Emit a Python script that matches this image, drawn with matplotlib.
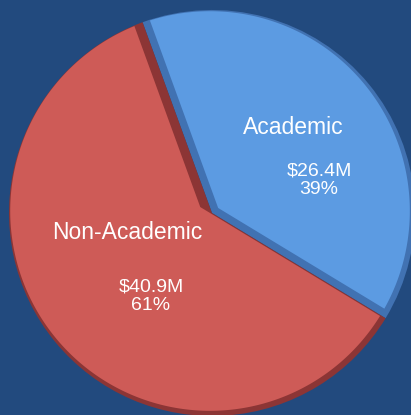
import numpy as np
import matplotlib
matplotlib.use("Agg")
import matplotlib.pyplot as plt
from matplotlib.patches import Polygon

# ---- data ----
categories = ["Academic", "Non-Academic"]
amounts = [26.4, 40.9]            # $M
amount_labels = ["$26.4M", "$40.9M"]
pct_labels = ["39%", "61%"]

# ---- style ----
BG = "#224A7E"
face_colors = ["#5C9BE2", "#CE5B57"]
bevel_colors = ["#4172B2", "#8C3535"]
FONT = ["Liberation Sans", "DejaVu Sans"]

W, H = 411, 415
PX = 203.0          # pixels per data unit (pie radius = 1)
CX, CY = 212, 213   # pie centre in pixels

fig = plt.figure(figsize=(W / 100, H / 100), dpi=100, facecolor=BG)
ax = fig.add_axes([0, 0, 1, 1])
ax.set_facecolor(BG)

wedges, _ = ax.pie(amounts, colors=bevel_colors, startangle=110,
                   counterclock=False, radius=1,
                   center=(0, 0), wedgeprops=dict(linewidth=0))
ax.set_xlim(-CX / PX, (W - CX) / PX)
ax.set_ylim(-(H - CY) / PX, CY / PX)
ax.set_aspect("auto")
ax.axis("off")

# bevel insets in pixels: (edge at theta1, edge at theta2)
edge_insets = [(7.5, 7.5), (9.0, 1.0)]


def arc_inset(theta_deg):
    return 3.2 - 2.8 * np.cos(np.radians(theta_deg - 135))


def u(a):
    a = np.radians(a)
    return np.array([np.cos(a), np.sin(a)])


for w, fc, (e1, e2) in zip(wedges, face_colors, edge_insets):
    c = np.array(w.center)
    R = w.r * PX
    t1, t2 = w.theta1, w.theta2
    n1 = u(t1 + 90)
    n2 = u(t2 - 90)
    A = np.array([n1, n2])
    v = np.linalg.solve(A, np.array([e1, e2]))
    r1 = R - arc_inset(t1)
    r2 = R - arc_inset(t2)
    a_start = t1 + np.degrees(np.arcsin(e1 / r1))
    a_end = t2 - np.degrees(np.arcsin(e2 / r2))
    thetas = np.linspace(a_start, a_end, 300)
    pts = [v]
    for th in thetas:
        pts.append((R - arc_inset(th)) * u(th))
    pts = np.array(pts) / PX + c
    ax.add_patch(Polygon(pts, closed=True, facecolor=fc, edgecolor="none"))


def P(px, py):
    return ((px - CX) / PX, (CY - py) / PX)


name_pos = [P(293, 128), P(127.5, 232)]
value_pos = [P(319, 180), P(151, 296.5)]
for i in range(len(categories)):
    ax.text(*name_pos[i], categories[i], color="white", fontsize=16.5,
            family=FONT, ha="center", va="center")
    ax.text(*value_pos[i], amount_labels[i] + "\n" + pct_labels[i],
            color="white", fontsize=14, family=FONT, ha="center",
            va="center", linespacing=1.15, multialignment="center")

fig.savefig("out.png", dpi=100, facecolor=BG)
